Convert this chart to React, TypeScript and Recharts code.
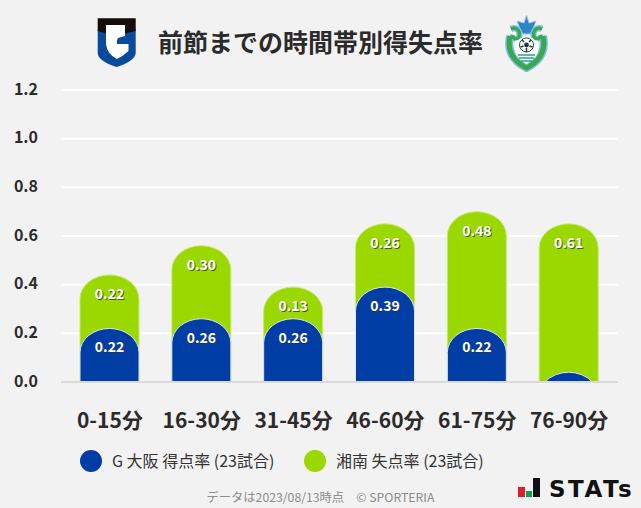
import React from "react";
import { BarChart, Bar, XAxis, YAxis, CartesianGrid, LabelList, ReferenceLine } from "recharts";

const categories = ["0-15分", "16-30分", "31-45分", "46-60分", "61-75分", "76-90分"];
const homeScored = [0.22, 0.26, 0.26, 0.39, 0.22, 0.04];
const awayConceded = [0.22, 0.30, 0.13, 0.26, 0.48, 0.61];
const yTicks = [0, 0.2, 0.4, 0.6, 0.8, 1.0, 1.2];
const title = "前節までの時間帯別得失点率";
const homeLegend = "G 大阪 得点率 (23試合)";
const awayLegend = "湘南 失点率 (23試合)";
const footnote = "データは2023/08/13時点　© SPORTERIA";

const rows = categories.map((category, i) => ({
  category,
  home: homeScored[i],
  away: awayConceded[i],
  total: homeScored[i] + awayConceded[i],
}));

const FONT = "'Noto Sans CJK JP', 'Noto Sans', sans-serif";
const BLUE = "#003da5";
const GREEN = "#9bd800";
const CAP = 24;

const Capsule = (props: any) => {
  const { x, y, width, height, fill, stroke } = props;
  const rx = width / 2;
  const h = Math.max(height, 0);
  let d: string;
  if (h >= CAP) {
    d = `M${x},${y + h}V${y + CAP}A${rx},${CAP} 0 0 1 ${x + width},${y + CAP}V${y + h}Z`;
  } else {
    const half = rx * Math.sqrt(1 - ((CAP - h) / CAP) ** 2);
    const cx = x + rx;
    d = `M${cx - half},${y + h}A${rx},${CAP} 0 0 1 ${cx + half},${y + h}Z`;
  }
  return <path d={d} fill={fill} stroke={stroke} strokeWidth={1} />;
};

const valueLabel = (key: "home" | "away", minShown: number) => (props: any) => {
  const { x, y, width, index } = props;
  const v = key === "home" ? homeScored[index] : awayConceded[index];
  if (v < minShown) return null;
  const px = x + width / 2;
  const py = y + 24;
  const text = v.toFixed(2);
  const common = { x: px, textAnchor: "middle" as const, fontFamily: FONT, fontSize: 14, fontWeight: 700 };
  return (
    <g>
      <text {...common} y={py + 1} dx={1} fill="#333333" fillOpacity={0.75}>{text}</text>
      <text {...common} y={py} fill="#ffffff">{text}</text>
    </g>
  );
};

const GambaLogo = () => (
  <svg style={{ position: "absolute", left: 97, top: 17 }} width={40} height={51} viewBox="0 0 40 51">
    <path d="M0.7,12 H38.7 V36 Q38,44 19.7,50 Q1,44 0.7,36 Z" fill="#0a4a9c" />
    <path d="M9,8 H28 V19 L21,21 Q19,24 20,27 H31.5 V34 Q26,39 20,42 Q10,37 9,27 Z" fill="#ffffff" />
    <path d="M0.7,1.3 H38.7 V14 L28,16.5 V8 H9 V16.5 L0.7,14 Z" fill="#150c0c" />
  </svg>
);

const BellmareLogo = () => (
  <svg style={{ position: "absolute", left: 505, top: 14 }} width={44} height={58} viewBox="0 0 44 58" fill="none">
    <path d="M21.5,1 L24,9 L31,7 L28,15 L25,20 H18 L15,15 L12,7 L19,9 Z" fill="#2f83c8" stroke="#9cc9e8" strokeWidth={1} />
    <path d="M5,22 C2,36 8,47 21.5,54 C35,47 41,36 38,22" stroke="#7dbce4" strokeWidth={8} />
    <path d="M6,15 C12,12 16,18 14,23 C11,27 7,24 8,21" stroke="#7dbce4" strokeWidth={6} />
    <path d="M37,15 C31,12 27,18 29,23 C32,27 36,24 35,21" stroke="#7dbce4" strokeWidth={6} />
    <path d="M10,24 H33 V38 C31,44 26,47 21.5,50 C17,47 12,44 10,38 Z" fill="#ffffff" />
    <path d="M5,22 C2,36 8,47 21.5,54 C35,47 41,36 38,22" stroke="#38a84a" strokeWidth={5} />
    <path d="M6,15 C12,12 16,18 14,23 C11,27 7,24 8,21" stroke="#38a84a" strokeWidth={3.2} />
    <path d="M37,15 C31,12 27,18 29,23 C32,27 36,24 35,21" stroke="#38a84a" strokeWidth={3.2} />
    <path d="M13,41 H30 M14,44 H29 M16,47 H27" stroke="#2f9e8a" strokeWidth={1.6} />
    <circle cx="21.5" cy="31" r="7" fill="#ffffff" stroke="#1d5a3a" strokeWidth={1} />
    <circle cx="21.5" cy="31" r="2.4" fill="#1d3a3a" />
    <path d="M17,26 L19,28 M26,26 L24,28 M15.5,33 L18.5,32 M27.5,33 L24.5,32 M21.5,38 V34" stroke="#1d3a3a" strokeWidth={1.5} />
  </svg>
);

const StatsLogo = () => (
  <div style={{ position: "absolute", left: 518, top: 476 }}>
    <svg style={{ position: "absolute", left: 0, top: 0 }} width={24} height={24} viewBox="0 0 24 24">
      <rect x="0" y="11" width="7" height="10" fill="#d9202c" />
      <rect x="8" y="15" width="6" height="6" fill="#12a150" />
      <rect x="15" y="2" width="7" height="19" fill="#111111" />
    </svg>
    <div style={{ position: "absolute", left: 31, top: -1, fontFamily: "'DejaVu Sans', sans-serif", fontWeight: 700, fontSize: 23, lineHeight: "28px", color: "#111", letterSpacing: 2.5, whiteSpace: "nowrap" }}>
      STATs
    </div>
  </div>
);

const LegendItem = ({ left, color, label }: { left: number; color: string; label: string }) => (
  <>
    <div style={{ position: "absolute", left, top: 450, width: 22, height: 22, borderRadius: "50%", background: color }} />
    <div style={{ position: "absolute", left: left + 32, top: 448, fontFamily: FONT, fontSize: 16, lineHeight: "24px", color: "#333", whiteSpace: "nowrap" }}>
      {label}
    </div>
  </>
);

export default function App() {
  return (
    <div style={{ position: "absolute", left: 0, top: 0, width: 641, height: 508, background: "#f2f2f2", overflow: "hidden" }}>
      <GambaLogo />
      <BellmareLogo />
      <div style={{ position: "absolute", left: 0, width: 641, top: 23, textAlign: "center", fontFamily: FONT, fontWeight: 700, fontSize: 25, lineHeight: "36px", color: "#2b2b2b" }}>
        {title}
      </div>
      <BarChart
        width={641}
        height={440}
        data={rows}
        margin={{ top: 90, right: 23, bottom: 0, left: 0 }}
        barSize={59}
        barGap={-59}
        style={{ position: "absolute", left: 0, top: 0 }}
      >
        <CartesianGrid vertical={false} stroke="#ffffff" strokeWidth={2} />
        <XAxis
          dataKey="category"
          axisLine={false}
          tickLine={false}
          padding={{ left: 3, right: 3 }}
          interval={0}
          height={58}
          tickMargin={25}
          tick={{ fontFamily: FONT, fontSize: 21, fontWeight: 700, fill: "#2b2b2b" }}
        />
        <YAxis
          type="number"
          domain={[0, 1.2]}
          ticks={yTicks}
          width={61}
          axisLine={false}
          tickLine={false}
          tickMargin={17}
          tickFormatter={(v: number) => v.toFixed(1)}
          tick={{ fontFamily: FONT, fontSize: 16, fontWeight: 700, fill: "#2b2b2b", textAnchor: "end", dy: -1 }}
        />
        <Bar dataKey="total" fill={GREEN} stroke="#c8ea70" isAnimationActive={false} shape={<Capsule />}>
          <LabelList dataKey="total" content={valueLabel("away", 0.1)} />
        </Bar>
        <Bar dataKey="home" fill={BLUE} stroke="#dfe6f2" isAnimationActive={false} shape={<Capsule />}>
          <LabelList dataKey="home" content={valueLabel("home", 0.1)} />
        </Bar>
        <ReferenceLine y={0} stroke="#d9d9d9" strokeWidth={2} />
      </BarChart>
      <LegendItem left={80} color={BLUE} label={homeLegend} />
      <LegendItem left={304} color={GREEN} label={awayLegend} />
      <div style={{ position: "absolute", left: 0, width: 641, top: 488, textAlign: "center", fontFamily: FONT, fontSize: 12.25, lineHeight: "18px", color: "#8c8c8c" }}>
        {footnote}
      </div>
      <StatsLogo />
    </div>
  );
}
